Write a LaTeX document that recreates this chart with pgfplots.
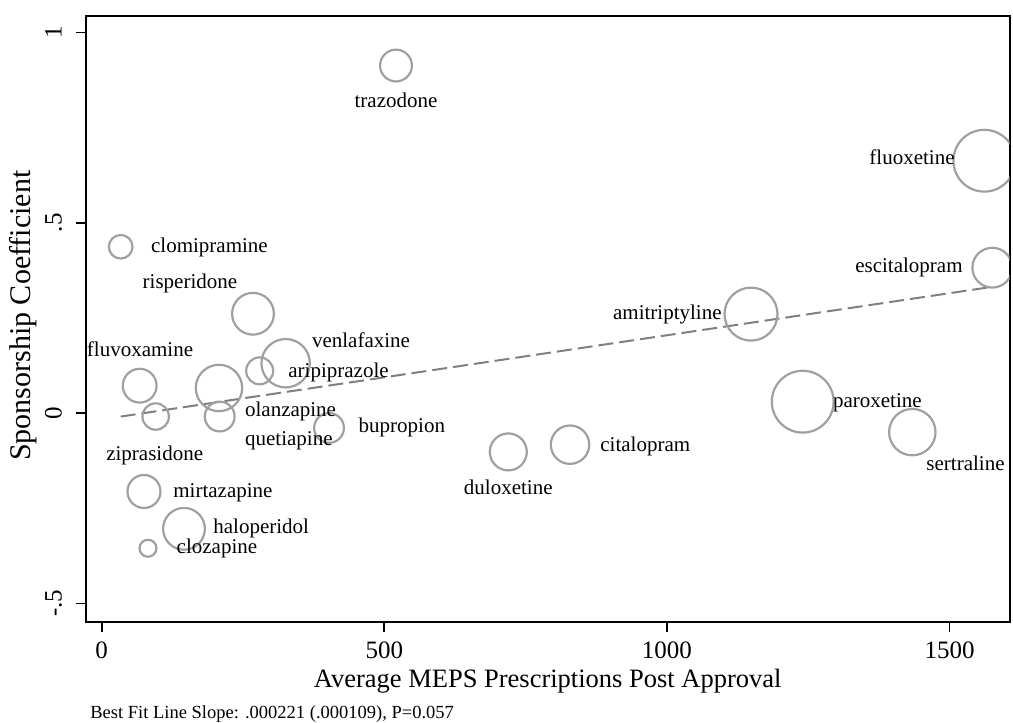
\documentclass[border=0pt]{standalone}
\usepackage{fontspec}
\setmainfont{Liberation Serif}
\usepackage{pgfplots}
\usepackage{pgfplotstable}
\pgfplotsset{compat=1.18}
\definecolor{circgray}{RGB}{160,160,160}
\definecolor{linegray}{RGB}{128,128,128}

\pgfplotstableread{
name x y s
trazodone 520.7 0.913 7.95
fluoxetine 1561.6 0.663 15.45
escitalopram 1575.7 0.382 9.95
clomipramine 33.6 0.437 5.9
risperidone 267.7 0.261 10.45
amitriptyline 1148.8 0.260 13.25
fluvoxamine 67.2 0.072 8.45
venlafaxine 325.5 0.131 12.1
aripiprazole 279.5 0.111 6.75
olanzapine 207.5 0.066 11.6
quetiapine 208.8 -0.009 7.45
ziprasidone 95.5 -0.009 6.6
bupropion 402.2 -0.039 7.45
duloxetine 719.4 -0.102 9.25
citalopram 828.6 -0.083 9.6
paroxetine 1240.3 0.030 15.45
sertraline 1434.2 -0.050 11.6
mirtazapine 74.8 -0.206 8.25
haloperidol 145.6 -0.304 10.45
clozapine 81.9 -0.355 4.25
}\drugs

\pgfplotstableread{
x y
33.6 -0.0091
1575.7 0.3317
}\fitline

\begin{document}
\begin{tikzpicture}[lab/.style={font=\fontsize{10.5}{12}\selectfont, inner sep=0pt, text height=0.68em, text depth=0.2em}]
\begin{axis}[
  scale only axis, width=462pt, height=303pt,
  xmin=-28.3, xmax=1606.5, ymin=-0.548, ymax=1.044,
  xtick={0,500,1000,1500}, xticklabels={0,500,1000,1500},
  ytick={-0.5,0,0.5,1}, yticklabels={-.5,0,.5,1},
  tick align=outside, major tick length=5pt,
  xtick pos=bottom, ytick pos=left,
  axis line style={line width=0.9pt, black},
  every tick/.style={black, line width=0.9pt},
  ticklabel style={font=\fontsize{12.5}{15}\selectfont},
  xticklabel style={anchor=north, inner sep=0pt, yshift=-5pt},
  yticklabel style={rotate=90, anchor=base, inner sep=0pt, yshift=7pt},
  clip marker paths=true,
]
\addplot[linegray, line width=1pt, dash pattern=on 7.5pt off 3pt] table[x=x,y=y] {\fitline};
\addplot[scatter, only marks, mark=o,
  scatter/use mapped color={draw=circgray, fill=none},
  mark options={line width=1.1pt},
  visualization depends on={\thisrow{s} \as \rr},
  scatter/@pre marker code/.append style={/tikz/mark size=\rr pt}]
  table[x=x, y=y] {\drugs};

\node[lab, anchor=center] at (axis cs:520.7,0.815) {trazodone};
\node[lab, anchor=east] at (axis cs:1509.7,0.665) {fluoxetine};
\node[lab, anchor=east] at (axis cs:1523.9,0.382) {escitalopram};
\node[lab, anchor=east] at (axis cs:1097.5,0.258) {amitriptyline};
\node[lab, anchor=west] at (axis cs:86.7,0.434) {clomipramine};
\node[lab, anchor=center] at (axis cs:156.2,0.340) {risperidone};
\node[lab, anchor=center] at (axis cs:67.8,0.161) {fluvoxamine};
\node[lab, anchor=west] at (axis cs:371.5,0.185) {venlafaxine};
\node[lab, anchor=west] at (axis cs:329.6,0.106) {aripiprazole};
\node[lab, anchor=west] at (axis cs:253,0.003) {olanzapine};
\node[lab, anchor=west] at (axis cs:253,-0.073) {quetiapine};
\node[lab, anchor=center] at (axis cs:93.8,-0.112) {ziprasidone};
\node[lab, anchor=west] at (axis cs:454,-0.039) {bupropion};
\node[lab, anchor=center] at (axis cs:719.4,-0.200) {duloxetine};
\node[lab, anchor=west] at (axis cs:881.6,-0.089) {citalopram};
\node[lab, anchor=west] at (axis cs:1293.3,0.028) {paroxetine};
\node[lab, anchor=east] at (axis cs:1598.2,-0.138) {sertraline};
\node[lab, anchor=west] at (axis cs:126.1,-0.209) {mirtazapine};
\node[lab, anchor=west] at (axis cs:196.9,-0.305) {haloperidol};
\node[lab, anchor=west] at (axis cs:132,-0.357) {clozapine};
\end{axis}
\node[anchor=base, font=\fontsize{13.25}{16}\selectfont] at ([yshift=-32.8pt]current axis.south) {Average MEPS Prescriptions Post Approval};
\node[anchor=base, rotate=90, font=\fontsize{15}{18}\selectfont] at ([xshift=-27.6pt,yshift=1.5pt]current axis.west) {Sponsorship Coefficient};
\node[anchor=base west, inner sep=0pt, font=\fontsize{9.25}{11}\selectfont] at ([xshift=2.15pt,yshift=-48.3pt]current axis.south west) {Best Fit Line Slope: .000221 (.000109), P=0.057};
\pgfresetboundingbox
\path[use as bounding box] ([xshift=-42.85pt,yshift=-50.65pt]current axis.south west) rectangle ([xshift=1.65pt,yshift=7.85pt]current axis.north east);
\end{tikzpicture}
\end{document}
